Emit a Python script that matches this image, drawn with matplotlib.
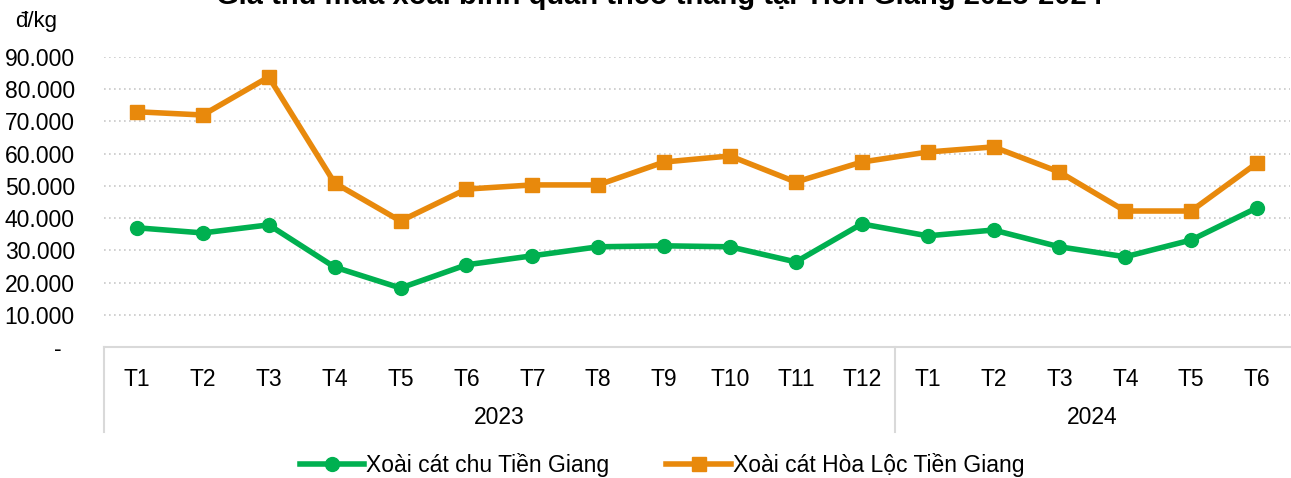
import matplotlib.pyplot as plt
from matplotlib.lines import Line2D

plt.rcParams['font.family'] = ['Liberation Sans', 'DejaVu Sans']

# Monthly labels and year groups
months = ['T1', 'T2', 'T3', 'T4', 'T5', 'T6', 'T7', 'T8', 'T9', 'T10', 'T11', 'T12',
          'T1', 'T2', 'T3', 'T4', 'T5', 'T6']
years = ['2023', '2024']
year_sizes = [12, 6]

# Prices (đ/kg)
xoai_cat_chu = [37000, 35400, 37900, 24800, 18300, 25500, 28300, 31100, 31400,
                31100, 26400, 38200, 34500, 36300, 31100, 28000, 33200, 43200]
xoai_hoa_loc = [73000, 72000, 83800, 50900, 39100, 49000, 50300, 50300, 57400,
                59300, 51200, 57400, 60500, 62100, 54300, 42200, 42200, 57100]

green = '#00B050'
orange = '#E8890C'

fig = plt.figure(figsize=(12.91, 4.78), dpi=100)
ax = fig.add_axes([104 / 1291, 1 - 347 / 478, 1186 / 1291, 290 / 478])

x = list(range(len(months)))
ax.plot(x, xoai_cat_chu, color=green, lw=4, marker='o', ms=10, solid_capstyle='round')
ax.plot(x, xoai_hoa_loc, color=orange, lw=4, marker='s', ms=10)

ax.set_xlim(-0.5, len(months) - 0.5)
ax.set_ylim(0, 90000)
yt = list(range(0, 90001, 10000))
ax.set_yticks(yt)
ax.set_yticklabels(['-  '] + [f'{v:,}'.replace(',', '.') for v in yt[1:]], fontsize=16.5)
ax.yaxis.grid(True, color='#C8C8C8', linestyle=(0, (1, 2)), lw=1.2)
ax.set_axisbelow(True)
ax.tick_params(axis='y', length=0, pad=21)

ax.set_xticks(x)
ax.set_xticklabels(months, fontsize=16.5)
ax.tick_params(axis='x', length=0, pad=15)

for side in ['top', 'right', 'left']:
    ax.spines[side].set_visible(False)
ax.spines['bottom'].set_color('#D9D9D9')
ax.spines['bottom'].set_linewidth(1.5)

# Year group labels and separators under the axis
trans = ax.get_xaxis_transform()
sep_bottom = -(432 - 347) / 290
start = -0.5
ax.plot([start, start], [0, sep_bottom], color='#D9D9D9', lw=1.5, transform=trans, clip_on=False)
for yr, n in zip(years, year_sizes):
    end = start + n
    ax.text((start + end) / 2, -(418 - 347) / 290, yr, transform=trans,
            ha='center', va='center', fontsize=16.5)
    if end < len(months) - 0.5:
        ax.plot([end, end], [0, sep_bottom], color='#D9D9D9', lw=1.5, transform=trans, clip_on=False)
    start = end

fig.text(15 / 1291, 1 - 22 / 478, 'đ/kg', fontsize=16, va='center', ha='left')
fig.text(659 / 1291, 1 - 4 / 478, 'Giá thu mua xoài bình quân theo tháng tại Tiền Giang 2023-2024',
         fontsize=21, fontweight='bold', ha='center', va='baseline')

handles = [Line2D([], [], color=green, lw=4, marker='o', ms=10),
           Line2D([], [], color=orange, lw=4, marker='s', ms=10)]
fig.legend(handles, ['Xoài cát chu Tiền Giang', 'Xoài cát Hòa Lộc Tiền Giang'],
           loc='center', bbox_to_anchor=(662 / 1291, 1 - 465 / 478), ncol=2, frameon=False,
           fontsize=16.5, handlelength=2.8, handletextpad=0.1, columnspacing=2.5)

fig.savefig('out.png', dpi=100)
